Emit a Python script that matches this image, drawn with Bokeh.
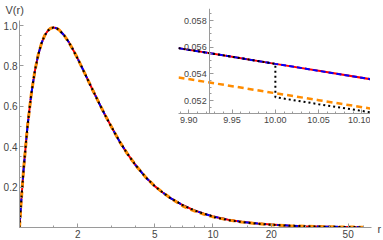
from bokeh.plotting import figure
from bokeh.models import Range1d, FixedTicker, GridBox
from bokeh.core.properties import value
from bokeh.embed import file_html
from bokeh.resources import INLINE

# ---------------- data ----------------
r_main = [1.0, 1.02, 1.05, 1.1, 1.15, 1.2, 1.25, 1.3, 1.35, 1.4, 1.45, 1.5, 1.55, 1.6,
          1.7, 1.8, 1.9, 2.0, 2.2, 2.4, 2.6, 2.8, 3.0, 3.3, 3.6, 4.0, 4.5, 5.0, 5.5, 6.0,
          7.0, 8.0, 9.0, 10.0, 12.0, 14.0, 17.0, 20.0, 25.0, 30.0, 35.0, 40.0, 50.0, 60.0]
v_exact = [0.0, 0.126, 0.289, 0.502, 0.659, 0.774, 0.856, 0.913, 0.951, 0.974, 0.987, 0.990,
           0.987, 0.979, 0.952, 0.917, 0.877, 0.836, 0.753, 0.677, 0.609, 0.548, 0.495, 0.424,
           0.367, 0.306, 0.248, 0.205, 0.173, 0.147, 0.110, 0.085, 0.0679, 0.0549, 0.0385,
           0.0285, 0.0196, 0.0143, 0.0092, 0.0065, 0.0048, 0.0037, 0.0024, 0.0016]
v_orange = [0.0, 0.126, 0.289, 0.502, 0.659, 0.774, 0.856, 0.913, 0.951, 0.974, 0.987, 0.990,
            0.987, 0.979, 0.952, 0.917, 0.877, 0.836, 0.753, 0.677, 0.609, 0.548, 0.495, 0.424,
            0.367, 0.306, 0.248, 0.205, 0.173, 0.147, 0.106, 0.082, 0.0652, 0.0527, 0.0370,
            0.0274, 0.0188, 0.0137, 0.0088, 0.0062, 0.0046, 0.0036, 0.0023, 0.0015]
r_dotted = [1.0, 1.02, 1.05, 1.1, 1.15, 1.2, 1.25, 1.3, 1.35, 1.4, 1.45, 1.5, 1.55, 1.6,
            1.7, 1.8, 1.9, 2.0, 2.2, 2.4, 2.6, 2.8, 3.0, 3.3, 3.6, 4.0, 4.5, 5.0, 5.5, 6.0,
            7.0, 8.0, 9.0, 10.0, 10.0, 12.0, 14.0, 17.0, 20.0, 25.0, 30.0, 35.0, 40.0, 50.0, 60.0]
v_dotted = [0.0, 0.126, 0.289, 0.502, 0.659, 0.774, 0.856, 0.913, 0.951, 0.974, 0.987, 0.990,
            0.987, 0.979, 0.952, 0.917, 0.877, 0.836, 0.753, 0.677, 0.609, 0.548, 0.495, 0.424,
            0.367, 0.306, 0.248, 0.205, 0.173, 0.147, 0.110, 0.085, 0.0679, 0.0549, 0.0524,
            0.0368, 0.0272, 0.0187, 0.0137, 0.0088, 0.0062, 0.0046, 0.0035, 0.0023, 0.0015]

x_major = [2, 5, 10, 20, 50]
x_major_labels = ["2", "5", "10", "20", "50"]
x_minor = [1.5, 3, 4, 6, 7, 8, 9, 15, 30, 40, 60]
y_major = [0.2, 0.4, 0.6, 0.8, 1.0]
y_major_labels = ["0.2", "0.4", "0.6", "0.8", "1.0"]
y_minor = [0.05, 0.1, 0.15, 0.25, 0.3, 0.35, 0.45, 0.5, 0.55, 0.65, 0.7, 0.75, 0.85, 0.9, 0.95]

inset_r = [9.888, 9.95, 10.0, 10.05, 10.11]
inset_exact = [0.05593, 0.05528, 0.05475, 0.05423, 0.05360]
inset_orange = [0.05373, 0.05308, 0.05255, 0.05203, 0.05140]
inset_r_dotted = [9.888, 9.95, 10.0, 10.0, 10.05, 10.11]
inset_dotted = [0.05593, 0.05528, 0.05475, 0.05225, 0.05173, 0.05112]

inset_x_major = [9.90, 9.95, 10.00, 10.05, 10.10]
inset_x_labels = ["9.90", "9.95", "10.00", "10.05", "10.10"]
inset_x_minor = [9.89, 9.91, 9.92, 9.93, 9.94, 9.96, 9.97, 9.98, 9.99, 10.01, 10.02,
                 10.03, 10.04, 10.06, 10.07, 10.08, 10.09]
inset_y_major = [0.052, 0.054, 0.056, 0.058]
inset_y_labels = ["0.052", "0.054", "0.056", "0.058"]
inset_y_minor = [0.0515, 0.0525, 0.053, 0.0535, 0.0545, 0.055, 0.0555, 0.0565, 0.057,
                 0.0575, 0.0585]

RED, BLUE, ORANGE, BLACK = "#ff0000", "#0000ff", "#ff8c00", "#000000"
AXIS_COLOR = "#9a9a9a"
LABEL_COLOR = "#444444"
FONT = "Liberation Sans"


def style_axes(fig, size, standoff):
    for ax in (fig.xaxis[0], fig.yaxis[0]):
        ax.axis_label = None
        ax.axis_line_color = AXIS_COLOR
        ax.major_tick_line_color = AXIS_COLOR
        ax.minor_tick_line_color = AXIS_COLOR
        ax.major_tick_in = 4
        ax.major_tick_out = 0
        ax.minor_tick_in = 2
        ax.minor_tick_out = 0
        ax.major_label_text_font = FONT
        ax.major_label_text_font_size = size
        ax.major_label_text_color = LABEL_COLOR
        ax.major_label_standoff = standoff
    fig.grid.visible = False
    fig.outline_line_color = None


# ---------------- main plot ----------------
p = figure(width=383, height=240, x_axis_type="log",
           x_range=Range1d(1, 66), y_range=Range1d(0, 1.025),
           output_backend="svg", toolbar_location=None, frame_align=False,
           min_border_left=16, min_border_right=12, min_border_top=20,
           min_border_bottom=12)
style_axes(p, "10px", 2)
p.xaxis.ticker = FixedTicker(ticks=x_major, minor_ticks=x_minor)
p.xaxis.major_label_overrides = dict(zip(x_major, x_major_labels))
p.yaxis.ticker = FixedTicker(ticks=y_major, minor_ticks=y_minor)
p.yaxis.major_label_overrides = dict(zip(y_major, y_major_labels))

p.line(r_main, v_exact, line_color=RED, line_width=2)
p.line(r_main, v_exact, line_color=BLUE, line_width=2, line_dash="5 3")
p.line(r_main, v_orange, line_color=ORANGE, line_width=3, line_dash="6 4")
p.line(r_dotted, v_dotted, line_color=BLACK, line_width=2, line_dash="2 3")

# ---------------- inset ----------------
inset = figure(width=232, height=127,
               x_range=Range1d(9.888, 10.11), y_range=Range1d(0.05103, 0.0589),
               output_backend="svg", toolbar_location=None, frame_align=False,
               min_border_left=40, min_border_right=0, min_border_top=2,
               min_border_bottom=20, margin=(6, 0, 0, 138))
inset.background_fill_color = None
inset.border_fill_color = None
style_axes(inset, "9px", 3)
inset.yaxis.fixed_location = 9.924
inset.xaxis.ticker = FixedTicker(ticks=inset_x_major, minor_ticks=inset_x_minor)
inset.xaxis.major_label_overrides = dict(zip(inset_x_major, inset_x_labels))
inset.yaxis.ticker = FixedTicker(ticks=inset_y_major, minor_ticks=inset_y_minor)
inset.yaxis.major_label_overrides = dict(zip(inset_y_major, inset_y_labels))

inset.line(inset_r, inset_exact, line_color=RED, line_width=2)
inset.line(inset_r, inset_exact, line_color=BLUE, line_width=2, line_dash="5 3")
inset.line(inset_r, inset_orange, line_color=ORANGE, line_width=2.5, line_dash="6 4")
inset.line(inset_r_dotted, inset_dotted, line_color=BLACK, line_width=2, line_dash="2 3")

# ---------------- text overlay (axis names) ----------------
ann = figure(width=383, height=240, x_range=Range1d(0, 383), y_range=Range1d(240, 0),
             output_backend="svg", toolbar_location=None, frame_align=False,
             x_axis_location=None, y_axis_location=None,
             min_border=0, min_border_left=0, min_border_right=0,
             min_border_top=0, min_border_bottom=0)
ann.grid.visible = False
ann.outline_line_color = None
ann.background_fill_color = None
ann.border_fill_color = None
ann.text(x=[5, 377], y=[3, 222], text=["V(r)", "r"], text_font=value(FONT),
         text_font_size="11px", text_color=LABEL_COLOR, text_baseline="top")

layout = GridBox(children=[(p, 0, 0), (inset, 0, 0), (ann, 0, 0)])

open("out.html", "w").write(file_html(layout, INLINE))
